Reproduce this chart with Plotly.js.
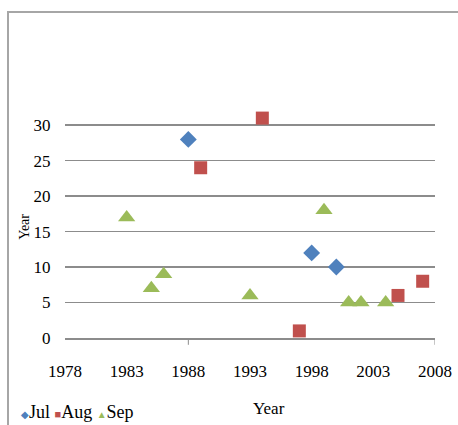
<!DOCTYPE html>
<html>
<head>
<meta charset="utf-8">
<script src="https://cdn.plot.ly/plotly-3.0.1.min.js"></script>
<style>
  html, body { margin: 0; padding: 0; background: #fff; }
  #wrap { position: relative; width: 458px; height: 425px; overflow: hidden; }
  #chart { position: absolute; left: 0; top: 0; width: 458px; height: 425px; }
  #frame { position: absolute; left: 7px; top: 11px; width: 470px; height: 430px;
           border-top: 2px solid #a6a6a6; border-left: 2px solid #a6a6a6; pointer-events: none; }
</style>
</head>
<body>
<div id="wrap"><div id="chart"></div><div id="frame"></div></div>
<script>
// ---- data ----
const seriesNames = ["Jul", "Aug", "Sep"];
const seriesColors = ["#4F81BD", "#C0504D", "#9BBB59"];
const seriesSymbols = ["diamond", "square", "triangle-up"];
const legendGlyphs = ["\u25C6", "\u25A0", "\u25B2"];

const julYears = [1988, 1998, 2000];
const julValues = [28, 12, 10];

const augYears = [1989, 1994, 1997, 2005, 2007];
const augValues = [24, 31, 1, 6, 8];

const sepYears = [1983, 1985, 1986, 1993, 1999, 2001, 2002, 2004];
const sepValues = [17, 7, 9, 6, 18, 5, 5, 5];

const xTickVals = [1978, 1983, 1988, 1993, 1998, 2003, 2008];
const xTickText = ["1978", "1983", "1988", "1993", "1998", "2003", "2008"];
const yTickVals = [0, 5, 10, 15, 20, 25, 30];
const majorTickYears = [1988, 2008];
const axisTitle = "Year";

// ---- chart ----
const xs = [julYears, augYears, sepYears];
const ys = [julValues, augValues, sepValues];
const sizes = [13, 13, 15];

const traces = seriesNames.map((name, i) => ({
  type: "scatter",
  mode: "markers",
  name: name,
  x: xs[i],
  y: ys[i],
  cliponaxis: false,
  marker: { symbol: seriesSymbols[i], size: sizes[i], color: seriesColors[i], line: { width: 0 } },
  showlegend: false
}));

const serif = "Liberation Serif, Times New Roman, serif";

const glyphSizes = [10, 11, 10];
const legendText = seriesNames.map((n, i) =>
  '<span style="color:' + seriesColors[i] + ';font-size:' + glyphSizes[i] + 'px">' + legendGlyphs[i] + '</span>' + n
).join(" ");

const shapes = majorTickYears.map(yr => ({
  type: "line", xref: "x", yref: "paper",
  x0: yr, x1: yr, y0: 0, y1: -0.03,
  line: { color: "#8c8c8c", width: 1 }
}));

const layout = {
  width: 458, height: 425,
  margin: { l: 65, r: 23, t: 111, b: 87 },
  paper_bgcolor: "rgba(0,0,0,0)",
  plot_bgcolor: "rgba(0,0,0,0)",
  font: { family: serif, size: 17, color: "#000" },
  showlegend: false,
  xaxis: {
    range: [1978, 2008],
    tickvals: xTickVals, ticktext: xTickText,
    showgrid: false, zeroline: false,
    showline: true, linecolor: "#8c8c8c", linewidth: 1.5,
    ticks: "outside", ticklen: 17, tickcolor: "rgba(0,0,0,0)",
    tickfont: { family: serif, size: 17 }
  },
  yaxis: {
    range: [0, 32],
    tickvals: yTickVals,
    showgrid: true, gridcolor: "#8c8c8c", gridwidth: 1.5,
    zeroline: false, showline: false,
    ticks: "outside", ticklen: 10, tickcolor: "rgba(0,0,0,0)",
    tickfont: { family: serif, size: 17 }
  },
  shapes: shapes,
  annotations: [
    { text: axisTitle, xref: "paper", yref: "paper", x: -0.108, y: 0.49,
      xanchor: "center", yanchor: "middle", textangle: -90, showarrow: false,
      font: { family: serif, size: 14 } },
    { text: axisTitle, xref: "paper", yref: "paper", x: 0.55, y: -0.31,
      xanchor: "center", yanchor: "middle", showarrow: false,
      font: { family: serif, size: 17 } },
    { text: legendText, xref: "paper", yref: "paper", x: -0.125, y: -0.325,
      xanchor: "left", yanchor: "middle", showarrow: false,
      font: { family: serif, size: 18 } }
  ]
};

Plotly.newPlot("chart", traces, layout, { displayModeBar: false, staticPlot: true });
</script>
</body>
</html>
